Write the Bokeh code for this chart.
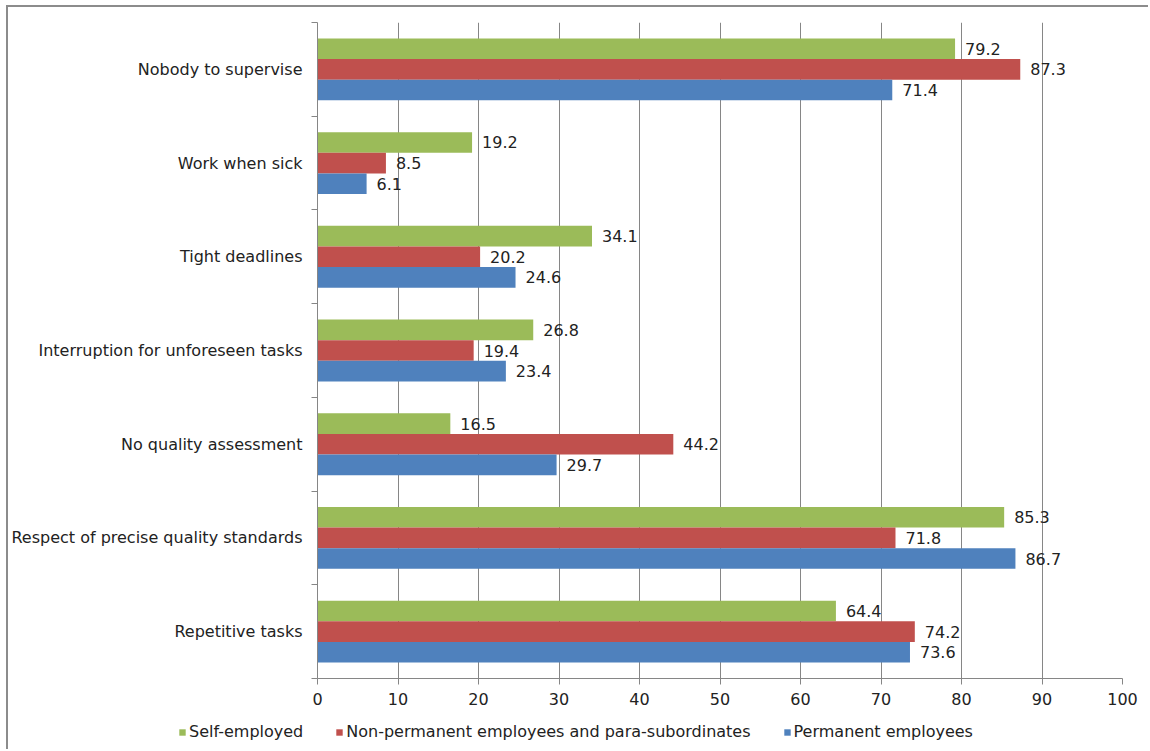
from bokeh.plotting import figure
from bokeh.models import ColumnDataSource, FixedTicker, Legend, LegendItem
from bokeh.transform import dodge
from bokeh.core.properties import value
from bokeh.embed import file_html
from bokeh.resources import INLINE

categories = ["Repetitive tasks", "Respect of precise quality standards", "No quality assessment",
              "Interruption for unforeseen tasks", "Tight deadlines", "Work when sick", "Nobody to supervise"]
self_employed = [64.4, 85.3, 16.5, 26.8, 34.1, 19.2, 79.2]
non_permanent = [74.2, 71.8, 44.2, 19.4, 20.2, 8.5, 87.3]
permanent = [73.6, 86.7, 29.7, 23.4, 24.6, 6.1, 71.4]
series_names = ["Self-employed", "Non-permanent employees and para-subordinates", "Permanent employees"]
x_ticks = [0, 10, 20, 30, 40, 50, 60, 70, 80, 90, 100]

colors = ["#9BBB59", "#C0504D", "#4F81BD"]
FONT = "DejaVu Sans"
FS = "16px"
BORDER = "2px solid #8c8c8c"

ypos = [i + 0.5 for i in range(len(categories))]
src = ColumnDataSource(dict(y=ypos, s=self_employed, n=non_permanent, p=permanent,
                            sl=[f"{v:.1f}" for v in self_employed],
                            nl=[f"{v:.1f}" for v in non_permanent],
                            pl=[f"{v:.1f}" for v in permanent]))

W = 1142
p = figure(width=W, height=705, output_backend="svg", toolbar_location=None,
           x_range=(0, 100), y_range=(0, len(categories)),
           min_border_left=309, min_border_right=28, min_border_top=15, min_border_bottom=34,
           margin=(5, 0, 0, 6), styles={"border-top": BORDER, "border-left": BORDER})
p.outline_line_color = None
p.background_fill_color = "white"
p.border_fill_color = "white"

bh = 0.22
offs = [bh, 0.0, -bh]
fields = ["s", "n", "p"]
lfields = ["sl", "nl", "pl"]
for f, lf, off, c in zip(fields, lfields, offs, colors):
    p.hbar(y=dodge("y", off, range=p.y_range), right=f, left=0, height=bh,
           source=src, fill_color=c, line_color=None)
    p.text(x=f, y=dodge("y", off, range=p.y_range), text=lf, source=src, x_offset=10,
           text_align="left", text_baseline="middle", text_font=value(FONT),
           text_font_size=FS, text_color="#222222")

# axes
p.xaxis.ticker = FixedTicker(ticks=x_ticks, minor_ticks=[])
p.xaxis.axis_line_color = "#868686"
p.xaxis.major_tick_line_color = "#868686"
p.xaxis.major_tick_out = 6
p.xaxis.major_tick_in = 0
p.xaxis.minor_tick_line_color = None
p.xaxis.major_label_text_font = FONT
p.xaxis.major_label_text_font_size = FS
p.xaxis.major_label_text_color = "#222222"
p.xaxis.major_label_standoff = 8

p.yaxis.ticker = FixedTicker(ticks=ypos, minor_ticks=list(range(len(categories) + 1)))
p.yaxis.major_label_overrides = {y: c for y, c in zip(ypos, categories)}
p.yaxis.axis_line_color = "#868686"
p.yaxis.major_tick_line_color = None
p.yaxis.minor_tick_line_color = "#868686"
p.yaxis.minor_tick_out = 6
p.yaxis.minor_tick_in = 0
p.yaxis.major_label_text_font = FONT
p.yaxis.major_label_text_font_size = FS
p.yaxis.major_label_text_color = "#222222"
p.yaxis.major_label_standoff = 9

p.xgrid.grid_line_color = "#868686"
p.xgrid.ticker = FixedTicker(ticks=x_ticks[1:])
p.ygrid.grid_line_color = None

# legend strip: separate root so its frame is not aligned/clipped by the main plot
LH = 39
lg = figure(width=W, height=LH, output_backend="svg", toolbar_location=None,
            x_range=(0, 1), y_range=(0, 1), min_border=0,
            margin=(0, 0, 0, 6), styles={"border-left": BORDER})
lg.xaxis.visible = False
lg.yaxis.visible = False
lg.xgrid.visible = False
lg.ygrid.visible = False
lg.outline_line_color = None
lg.border_fill_color = "white"
lg.background_fill_color = "white"
dummy = ColumnDataSource(dict(y=[0.5], r=[0.0]))
leg_r = [lg.hbar(y="y", right="r", left=0, height=0.0, source=dummy, fill_color=c, line_color=None)
         for c in colors]
legend = Legend(items=[LegendItem(label=n, renderers=[r]) for n, r in zip(series_names, leg_r)],
                orientation="horizontal", location=(170, 8), padding=0, margin=0,
                spacing=32, label_standoff=3, glyph_width=8, glyph_height=8,
                border_line_color=None, background_fill_alpha=0,
                label_text_font=FONT, label_text_font_size=FS, label_text_color="#222222")
lg.add_layout(legend)

open("out.html", "w").write(file_html([p, lg], INLINE))
